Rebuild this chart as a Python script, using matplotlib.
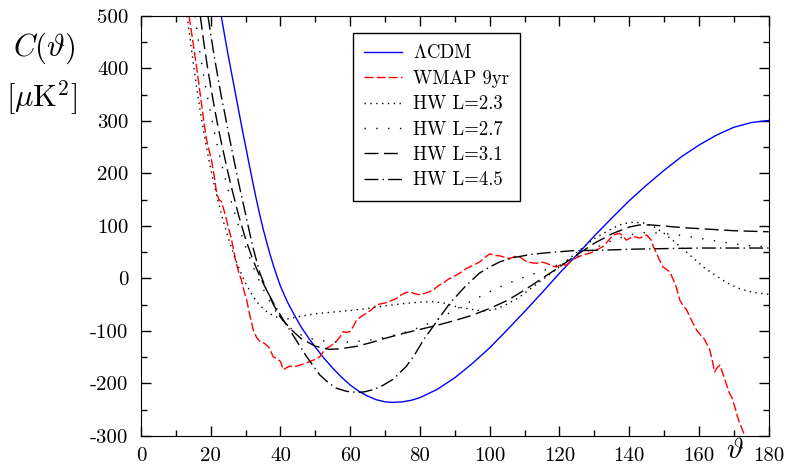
import matplotlib
matplotlib.use('Agg')
import matplotlib.pyplot as plt
from matplotlib.ticker import MultipleLocator

plt.rcParams['font.family'] = 'serif'
plt.rcParams['font.serif'] = ['cmr10', 'DejaVu Serif']
plt.rcParams['mathtext.fontset'] = 'cm'
plt.rcParams['axes.unicode_minus'] = False

# LCDM
lcdm_t = [21, 23, 24, 25, 26, 27, 28, 29, 30, 31, 32, 33, 34, 35, 36, 37, 38, 39, 40,
          42, 44, 46, 48, 50, 52.5, 55, 57.5, 60, 62.5, 65, 67.5, 70, 72, 75, 77.5, 80,
          85, 90, 95, 100, 105, 110, 115, 120, 125, 130, 135, 140, 145, 150, 155, 160,
          165, 170, 175, 180]
lcdm_c = [580, 500, 462, 425, 390, 355, 320, 285, 252, 218, 185, 153, 123, 95, 70, 46,
          24, 4, -15, -45, -70, -93, -113, -131, -152, -171, -188, -203, -215, -224, -231,
          -235, -236, -235, -232, -227, -211, -189, -162, -132, -98, -63, -27, 10, 45,
          81, 115, 148, 178, 206, 232, 254, 273, 288, 297, 301]

# WMAP 9yr
wmap_t = [13.8, 15, 16, 17, 18, 18.8, 19.5, 20.2, 21, 21.7, 22.4, 23.1, 24, 25, 26, 27,
          28, 28.8, 29.6, 30.3, 31.2, 32.2, 33.1, 34.1, 35.3, 36.5, 37.2, 37.9, 39, 40,
          40.8, 41.7, 42.7, 44, 45.6, 47, 48.4, 50, 51.3, 52.2, 53.2, 54.5, 56, 57, 58,
          59, 59.9, 61, 61.8, 63.2, 64.7, 66, 67.6, 69, 70.4, 71.8, 73.3, 74.2, 75.5, 77,
          78.5, 80, 82, 83.8, 85.2, 86.6, 88, 89.5, 91.4, 93.3, 95.2, 97.2, 98.6, 100,
          101.5, 103, 104.4, 105.8, 107.2, 108.6, 110.6, 112, 113.5, 115, 116.3, 117.8,
          119.2, 120.6, 122, 123.5, 125, 126.8, 128.7, 130.6, 132.5, 134, 135.4, 137.3,
          138.3, 139.2, 141.1, 143, 145, 146.3, 147, 147.8, 148.7, 149.7, 151.6, 152.5,
          153.5, 154.5, 155.5, 156.5, 157.5, 158.5, 159.3, 160.5, 161.5, 162.3, 163.1,
          163.8, 164.5, 165.2, 166, 166.8, 167.8, 168.8, 169.5, 170.3, 171, 171.7, 172.3,
          172.8, 173.2]
wmap_c = [500, 445, 400, 350, 300, 264, 245, 226, 195, 162, 150, 146, 125, 99, 73, 38,
          12, -3, -25, -41, -70, -98, -112, -120, -123, -130, -138, -149, -153, -158,
          -174, -170, -167, -168, -165, -162, -158, -154, -149, -140, -133, -128, -120,
          -112, -101, -103, -101, -90, -79, -72, -66, -60, -50, -48, -46, -42, -38, -33,
          -28, -25, -29, -31, -27, -22, -14, -9, -2, 3, 10, 19, 25, 32, 40, 47,
          44, 43, 40, 38, 42, 41, 32, 30, 29, 31, 29, 24,
          22, 27, 25, 35, 40, 45, 48, 54, 61, 72, 83, 86,
          80, 73, 80, 77, 83, 73, 60, 48, 35, 22, 13, 0,
          -16, -41, -52, -60, -75, -88, -98, -108, -115, -125, -136,
          -155, -178, -170, -165, -180, -200, -219, -228, -245, -262, -276, -285,
          -294, -302]

# HW L=2.3
hw23_t = [13.2, 14, 15, 16, 17, 18, 19, 20, 21, 22, 23, 24, 25, 26, 27, 28, 29, 30, 32,
          34, 36, 38, 40, 42, 45, 50, 55, 60, 65, 70, 75, 80, 84, 87, 90, 94, 98, 101,
          104, 108, 112, 116, 120, 125, 130, 135, 138, 141, 144, 147, 150, 153, 156,
          159, 162, 165, 168, 171, 174, 177, 180]
hw23_c = [500, 460, 410, 362, 318, 278, 242, 208, 178, 150, 124, 100, 78, 57, 38, 21, 5,
          -9, -33, -51, -63, -71, -76, -77, -73, -67, -64, -61, -57, -52, -48, -45, -44,
          -47, -53, -58, -62, -60, -52, -38, -18, 2, 22, 50, 76, 95, 104, 107, 106, 99,
          86, 70, 53, 35, 18, 5, -8, -18, -24, -28, -30]

# HW L=2.7
hw27_t = [15.5, 17, 18, 19, 20, 21, 22, 23, 24, 26, 28, 30, 32, 34, 36, 38, 40, 43, 46,
          50, 55, 60, 65, 70, 75, 80, 85, 90, 95, 100, 105, 110, 115, 120, 125, 130,
          135, 140, 145, 150, 155, 160, 165, 170, 175, 180]
hw27_c = [500, 425, 385, 348, 313, 280, 250, 221, 194, 144, 100, 60, 25, -6, -33, -56,
          -75, -95, -108, -117, -121, -121, -118, -112, -104, -93, -78, -60, -42, -25,
          -10, 3, 14, 27, 42, 58, 72, 83, 88, 86, 82, 77, 71, 66, 62, 60]

# HW L=3.1
hw31_t = [17, 18, 19, 20, 21, 22, 23, 24, 25, 26, 28, 30, 32, 34, 36, 38, 40, 43, 46,
          50, 54, 57, 62, 66, 70, 75, 80, 85, 90, 95, 100, 105, 110, 115, 120, 125, 130,
          135, 140, 143, 146, 150, 155, 160, 165, 170, 175, 180]
hw31_c = [500, 450, 405, 365, 327, 292, 260, 230, 200, 172, 120, 75, 37, 5, -22, -50,
          -74, -97, -115, -129, -135, -134, -129, -122, -114, -105, -97, -89, -80, -70,
          -57, -42, -22, 0, 22, 45, 67, 85, 98, 102, 102, 100, 97, 95, 93, 91, 90, 89]

# HW L=4.5
hw45_t = [19.2, 20, 21, 22, 23, 24, 25, 26, 28, 30, 32, 34, 36, 38, 40.8, 43.7, 47.5,
          51.3, 54, 56, 59, 62, 64, 66.5, 69, 72.3, 76, 78.5, 81, 85, 88.6, 93, 97, 100,
          103, 107, 112, 118, 124, 132.5, 142, 151, 161, 170, 180]
hw45_c = [500, 465, 423, 385, 348, 315, 280, 247, 182, 122, 62, 12, -22, -47, -79, -109,
          -149, -184, -200, -209, -215, -217, -216, -212, -205, -192, -168, -145, -117,
          -80, -47, -15, 10, 22, 32, 40, 46, 50, 53, 54, 56, 57, 58, 58, 58]

fig = plt.figure(figsize=(7.9, 4.69), dpi=100)
ax = fig.add_axes([0.1785, 0.0704, 0.7945, 0.8955])

ax.plot(lcdm_t, lcdm_c, color='#0000ff', lw=1.0, label=r'$\Lambda$CDM')
ax.plot(wmap_t, wmap_c, color='#ff0000', lw=1.0, dashes=(6.5, 2.2), label='WMAP 9yr')
ax.plot(hw23_t, hw23_c, color='black', lw=1.0, dashes=(1, 3.2), label='HW L=2.3')
ax.plot(hw27_t, hw27_c, color='black', lw=1.0, dashes=(1, 7.5), label='HW L=2.7')
ax.plot(hw31_t, hw31_c, color='black', lw=1.0, dashes=(10, 4), label='HW L=3.1')
ax.plot(hw45_t, hw45_c, color='black', lw=1.0, dashes=(10, 3, 1, 3), label='HW L=4.5')

ax.set_xlim(0, 180)
ax.set_ylim(-300, 500)
ax.xaxis.set_major_locator(MultipleLocator(20))
ax.xaxis.set_minor_locator(MultipleLocator(10))
ax.yaxis.set_major_locator(MultipleLocator(100))
ax.yaxis.set_minor_locator(MultipleLocator(50))
ax.tick_params(which='both', direction='in', top=True, right=True, labelsize=15)
ax.tick_params(which='major', length=7, width=1)
ax.tick_params(which='minor', length=4, width=1)
ax.tick_params(axis='x', pad=8)
ax.tick_params(axis='y', pad=9)

leg = ax.legend(loc='upper left', bbox_to_anchor=(0.3376, 0.9595), borderaxespad=0,
                fontsize=13.5, frameon=True, fancybox=False, edgecolor='black',
                framealpha=1, handlelength=2.0, labelspacing=0.4, borderpad=0.6,
                handletextpad=0.6)
leg.get_frame().set_linewidth(1.0)

fig.text(0.016, 0.898, r'$C(\vartheta)$', fontsize=22, va='center', ha='left')
fig.text(0.008, 0.793, r'$[\mu\mathrm{K}^2]$', fontsize=22, va='center', ha='left')
fig.text(0.931, 0.038, r'$\vartheta$', fontsize=21, va='center', ha='center')

fig.savefig('out.png', dpi=100)
